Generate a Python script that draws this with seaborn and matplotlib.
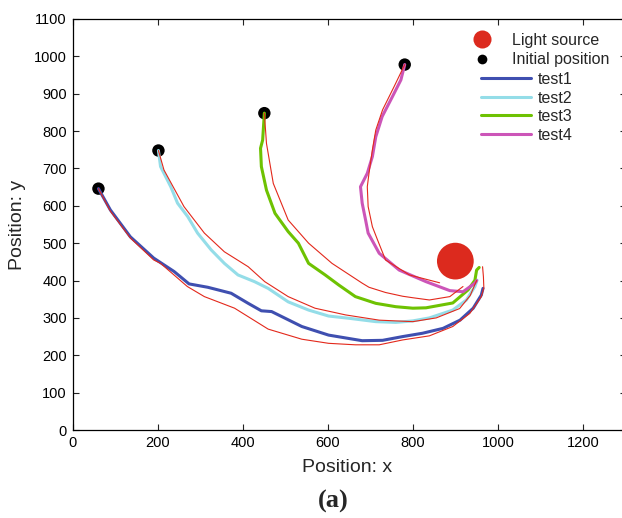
import numpy as np
import pandas as pd
import matplotlib
matplotlib.use("Agg")
import matplotlib.pyplot as plt
import seaborn as sns
from matplotlib.lines import Line2D

# ---------------- data ----------------
light_x = [900]
light_y = [452]

init_x = [61, 202, 451, 781]
init_y = [646, 748, 848, 978]

test1_x = [61, 89, 136, 191, 239, 274, 318, 373, 413, 444, 468, 539, 602, 681, 729, 776, 823, 871, 911, 942, 961, 965]
test1_y = [646, 589, 517, 460, 424, 391, 382, 366, 339, 319, 317, 277, 254, 239, 240, 250, 259, 272, 294, 326, 361, 379]

test2_x = [202, 207, 231, 247, 271, 294, 326, 357, 389, 428, 460, 507, 555, 602, 650, 713, 760, 800, 839, 894, 926, 946, 951]
test2_y = [748, 705, 651, 607, 571, 527, 482, 446, 415, 397, 379, 343, 321, 305, 299, 290, 288, 292, 300, 321, 348, 384, 401]

test3_x = [451, 447, 442, 444, 456, 476, 507, 531, 555, 594, 626, 665, 713, 760, 800, 831, 894, 930, 946, 950, 956]
test3_y = [848, 776, 754, 705, 642, 580, 531, 500, 446, 415, 388, 357, 339, 330, 326, 327, 340, 375, 401, 428, 435]

test4_x = [781, 772, 752, 728, 713, 705, 693, 677, 681, 689, 695, 721, 768, 831, 887, 918, 946, 950]
test4_y = [978, 937, 892, 839, 785, 732, 687, 651, 607, 562, 527, 473, 428, 397, 373, 370, 393, 400]

red1_x = [61, 89, 136, 191, 207, 270, 310, 381, 460, 539, 602, 665, 721, 776, 839, 894, 934, 961, 967, 966, 964]
red1_y = [646, 586, 514, 455, 446, 384, 357, 326, 270, 243, 232, 228, 228, 241, 252, 277, 312, 357, 380, 410, 437]

red2_x = [202, 215, 262, 310, 357, 413, 452, 507, 570, 642, 721, 800, 855, 910, 935, 950]
red2_y = [748, 696, 598, 527, 477, 437, 397, 357, 326, 308, 294, 290, 300, 325, 360, 400]

red3_x = [451, 456, 472, 507, 555, 610, 681, 697, 736, 776, 800, 839, 887, 918]
red3_y = [848, 767, 660, 562, 500, 446, 393, 382, 368, 358, 354, 348, 357, 384]

red4_x = [781, 756, 729, 713, 705, 697, 693, 695, 705, 717, 736, 792, 863]
red4_y = [978, 919, 857, 803, 750, 687, 651, 598, 544, 509, 455, 415, 394]

test_names = ["test1", "test2", "test3", "test4"]
test_colors = ["#3f4fb0", "#94dde8", "#6ec202", "#cc55b8"]

# ---------------- frames ----------------
tests_xy = [(test1_x, test1_y), (test2_x, test2_y), (test3_x, test3_y), (test4_x, test4_y)]
reds_xy = [(red1_x, red1_y), (red2_x, red2_y), (red3_x, red3_y), (red4_x, red4_y)]

df_tests = pd.concat([pd.DataFrame({"x": xs, "y": ys, "test": n})
                      for n, (xs, ys) in zip(test_names, tests_xy)], ignore_index=True)
df_red = pd.concat([pd.DataFrame({"x": xs, "y": ys, "path": i})
                    for i, (xs, ys) in enumerate(reds_xy)], ignore_index=True)
df_init = pd.DataFrame({"x": init_x, "y": init_y})
df_light = pd.DataFrame({"x": light_x, "y": light_y})

# ---------------- style ----------------
sns.set_style("ticks")
plt.rcParams["font.family"] = ["Liberation Sans", "DejaVu Sans"]

W, H = 622, 518
fig = plt.figure(figsize=(W / 100, H / 100), dpi=100)
ax = fig.add_axes([72.5 / W, 88 / H, 553 / W, 411 / H])

red = "#e3281b"

sns.scatterplot(data=df_light, x="x", y="y", s=700, color="#dc2a1e", edgecolor="none",
                ax=ax, legend=False, zorder=2)
sns.scatterplot(data=df_init, x="x", y="y", s=80, color="black", edgecolor="none",
                ax=ax, legend=False, zorder=2)
sns.lineplot(data=df_tests, x="x", y="y", hue="test", palette=test_colors, sort=False,
             estimator=None, linewidth=2.2, ax=ax, legend=False, zorder=3)
sns.lineplot(data=df_red, x="x", y="y", units="path", estimator=None, sort=False,
             color=red, linewidth=0.8, ax=ax, legend=False, zorder=4)

ax.set_xlim(0, 1300)
ax.set_ylim(0, 1100)
ax.set_xticks(np.arange(0, 1201, 200))
ax.set_yticks(np.arange(0, 1101, 100))
ax.tick_params(direction="in", length=4, width=0.8, top=True, right=True,
               labelsize=10.5, colors="#222222", labelcolor="black", pad=4)
for s in ax.spines.values():
    s.set_linewidth(0.9)
    s.set_color("black")

ax.set_xlabel("Position: x", fontsize=14)
ax.set_ylabel("Position: y", fontsize=14)
ax.xaxis.set_label_coords(0.5 * 549 / 553, -(468 - 430) / 411)
ax.xaxis.label.set_va("center")
ax.yaxis.set_label_coords(-(72.5 - 18) / 553, 0.5)
ax.yaxis.label.set_va("center")

# legends
h1 = [Line2D([], [], ls="none", marker="o", ms=13, color="#dc2a1e", mec="none"),
      Line2D([], [], ls="none", marker="o", ms=7, color="black", mec="none")]
leg1 = ax.legend(h1, ["Light source", "Initial position"], loc="upper left",
                 bbox_to_anchor=(474 / W, 1 - 33 / H), bbox_transform=fig.transFigure,
                 frameon=False, fontsize=11.5, handlelength=1.0, handletextpad=1.4,
                 borderpad=0, borderaxespad=0, labelspacing=0.28)
ax.add_artist(leg1)
h2 = [Line2D([], [], color=c, lw=2.2) for c in test_colors]
ax.legend(h2, test_names, loc="upper left",
          bbox_to_anchor=(481 / W, 1 - 72 / H), bbox_transform=fig.transFigure,
          frameon=False, fontsize=11.5, handlelength=3.1, handletextpad=0.45,
          borderpad=0, borderaxespad=0, labelspacing=0.22)

fig.text(333 / W, 1 - 501 / H, "(a)", ha="center", va="center",
         family=["Liberation Serif", "DejaVu Serif"], weight="bold", fontsize=19)

fig.savefig("out.png", dpi=100)
